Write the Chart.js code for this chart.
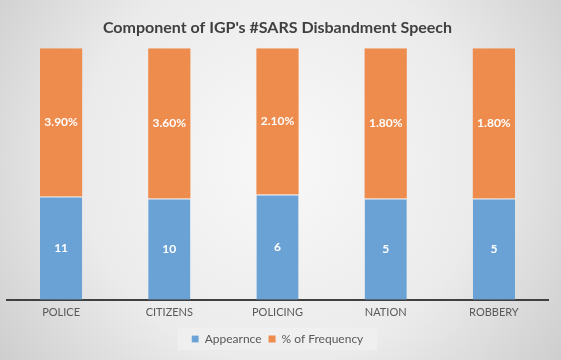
<!DOCTYPE html>
<html>
<head>
<meta charset="utf-8">
<script src="https://cdn.jsdelivr.net/npm/chart.js@4/dist/chart.umd.min.js"></script>
<style>
html,body{margin:0;padding:0;background:#fff;}
#wrap{width:561px;height:360px;position:relative;}
</style>
</head>
<body>
<div id="wrap"><canvas id="c" width="561" height="360"></canvas></div>
<script>
// Categories
const categories = ["POLICE", "CITIZENS", "POLICING", "NATION", "ROBBERY"];
// Displayed values (data labels)
const appearanceLabels = ["11", "10", "6", "5", "5"];
const frequencyLabels = ["3.90%", "3.60%", "2.10%", "1.80%", "1.80%"];
// Segment heights as drawn (share of 100% stacked column)
const appearanceShare = [41.1, 40.3, 41.9, 40.3, 40.3];
const frequencyShare = [58.9, 59.7, 58.1, 59.7, 59.7];
const seriesNames = ["Appearnce", "% of Frequency"];

const bgPlugin = {
  id: 'bg',
  beforeDraw(chart) {
    const ctx = chart.ctx, w = chart.width, h = chart.height;
    ctx.save();
    const g = ctx.createRadialGradient(w/2, h*0.45, 20, w/2, h*0.45, w*0.62);
    g.addColorStop(0, '#f7f7f7');
    g.addColorStop(0.55, '#ebebeb');
    g.addColorStop(1, '#cdcdcd');
    ctx.fillStyle = g;
    ctx.fillRect(0, 0, w, h);
    // legend background
    const lg = chart.legend;
    if (lg && lg.legendHitBoxes && lg.legendHitBoxes.length) {
      const boxes = lg.legendHitBoxes;
      let x0 = Infinity, x1 = -Infinity, y0 = Infinity, y1 = -Infinity;
      boxes.forEach(b => { x0 = Math.min(x0, b.left); x1 = Math.max(x1, b.left + b.width); y0 = Math.min(y0, b.top); y1 = Math.max(y1, b.top + b.height); });
      ctx.fillStyle = 'rgba(240,240,240,0.85)';
      ctx.fillRect(x0 - 14, y0 - 5, (x1 - x0) + 28, (y1 - y0) + 10);
    }
    ctx.restore();
  }
};

const labelPlugin = {
  id: 'lbls',
  afterDatasetsDraw(chart) {
    const ctx = chart.ctx;
    const texts = [appearanceLabels, frequencyLabels];
    ctx.save();
    ctx.fillStyle = '#ffffff';
    ctx.font = 'bold 12px Lato';
    ctx.textAlign = 'center';
    ctx.textBaseline = 'middle';
    chart.data.datasets.forEach((ds, di) => {
      const meta = chart.getDatasetMeta(di);
      meta.data.forEach((el, i) => {
        const p = el.getProps(['x', 'y', 'base'], true);
        ctx.fillText(texts[di][i], p.x, (p.y + p.base) / 2);
      });
    });
    ctx.restore();
  }
};

new Chart(document.getElementById('c'), {
  type: 'bar',
  data: {
    labels: categories,
    datasets: [
      { label: seriesNames[0], data: appearanceShare, backgroundColor: '#6aa2d6', borderColor: '#f2f2f2', borderWidth: {top: 1}, borderSkipped: 'bottom', categoryPercentage: 1, barPercentage: 0.39 },
      { label: seriesNames[1], data: frequencyShare, backgroundColor: '#ee8c4d', borderWidth: 0, categoryPercentage: 1, barPercentage: 0.39 }
    ]
  },
  options: {
    responsive: false,
    animation: false,
    devicePixelRatio: 1,
    layout: { padding: { left: 7, right: 13, top: 0, bottom: 5 } },
    scales: {
      x: {
        stacked: true,
        grid: { display: false },
        border: { display: true, color: '#404040', width: 2 },
        ticks: { color: '#595959', font: { family: 'Lato', size: 11 }, padding: -2 },
        afterFit(scale) { scale.height += 9; }
      },
      y: {
        stacked: true, display: false, min: 0, max: 100
      }
    },
    plugins: {
      title: {
        display: true,
        text: "Component of IGP's #SARS Disbandment Speech",
        color: '#404040',
        font: { family: 'Lato', size: 16, weight: 'bold' },
        padding: { top: 18, bottom: 11 }
      },
      legend: {
        position: 'bottom',
        labels: { color: '#595959', font: { family: 'Lato', size: 12 }, boxWidth: 7, boxHeight: 7, padding: 7 }
      },
      tooltip: { enabled: false }
    }
  },
  plugins: [bgPlugin, labelPlugin]
});
</script>
</body>
</html>
